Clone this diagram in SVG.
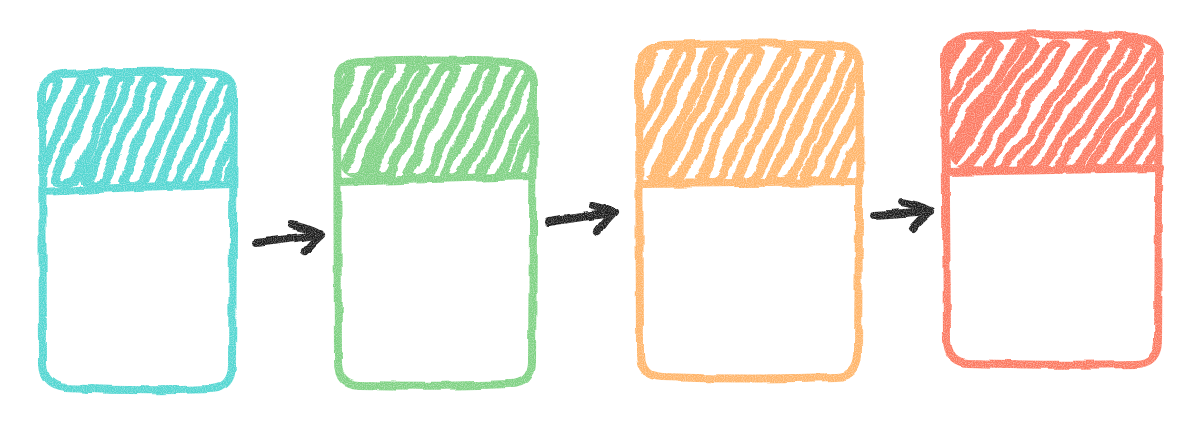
<svg xmlns="http://www.w3.org/2000/svg" width="1200" height="421" viewBox="0 0 1200 421">
<style>
.line{fill:none;stroke-width:8;stroke-linecap:round;stroke-linejoin:round}
.hatch{fill:none;stroke-width:10;stroke-linecap:round;stroke-linejoin:round}
.teal{stroke:#52d6d1}
.green{stroke:#7fd183}
.orange{stroke:#ffb56a}
.red{stroke:#fc7a62}
.arrow{fill:none;stroke:#1f1f1f;stroke-width:8;stroke-linecap:round;stroke-linejoin:round}
</style>
<defs>
<filter id="rough" x="-10%" y="-10%" width="120%" height="120%">
<feTurbulence type="fractalNoise" baseFrequency="0.04" numOctaves="2" seed="3" result="n"/>
<feDisplacementMap in="SourceGraphic" in2="n" scale="5" xChannelSelector="R" yChannelSelector="G" result="d"/>
<feTurbulence type="fractalNoise" baseFrequency="0.9" numOctaves="1" seed="7" result="g"/>
<feColorMatrix in="g" type="matrix" values="0 0 0 0 0  0 0 0 0 0  0 0 0 0 0  0 0 0 -1.2 1.5" result="ga"/>
<feComposite in="d" in2="ga" operator="in"/>
</filter>
<filter id="scribble" x="-10%" y="-10%" width="120%" height="120%">
<feTurbulence type="fractalNoise" baseFrequency="0.025" numOctaves="2" seed="11" result="n"/>
<feDisplacementMap in="SourceGraphic" in2="n" scale="9" xChannelSelector="R" yChannelSelector="G"/>
</filter>
<clipPath id="c1"><rect x="44" y="75" width="188" height="112" rx="18"/></clipPath>
<clipPath id="c2"><rect x="339" y="64" width="193" height="114" rx="18"/></clipPath>
<clipPath id="c3"><rect x="641" y="47" width="218" height="136" rx="20"/></clipPath>
<clipPath id="c4"><rect x="947" y="38" width="212" height="131" rx="20"/></clipPath>
</defs>
<rect width="1200" height="421" fill="#ffffff"/>

<g id="node-1" filter="url(#rough)">
<g clip-path="url(#c1)"><path class="hatch teal" filter="url(#scribble)" d="M 0 182 l42 -100 q7 -9 16 0 l-40 100 q8 9 19 0 l44 -100 q7 -9 15 0 l-42 100 q9 9 21 0 l40 -100 q7 -9 14 0 l-44 100 q8 9 18 0 l42 -100 q7 -9 17 0 l-40 100 q8 9 20 0 l44 -100 q7 -9 15 0 l-42 100 q8 9 19 0 l42 -100 q7 -9 16 0 l-42 100 q8 9 20 0 l40 -100 q7 -9 15 0 l-42 100 q8 9 18 0 l44 -100 q7 -9 16 0 l-42 100 q8 9 19 0 l42 -100 q7 -9 16 0 l-42 100 q8 9 19 0"/></g>
<path class="line teal" d="M 64 74 Q 150 70 212 73 Q 234 74 234 96 L 232 365 Q 232 388 210 389 Q 140 392 66 388 Q 44 386 43 364 L 42 96 Q 42 75 64 74 Z"/>
<path class="line teal" d="M 43 192 Q 140 186 233 184"/>
</g>

<g id="node-2" filter="url(#rough)">
<g clip-path="url(#c2)"><path class="hatch green" filter="url(#scribble)" d="M 286 174 l50 -104 q7 -9 16 0 l-48 104 q8 9 19 0 l52 -104 q7 -9 15 0 l-50 104 q9 9 21 0 l48 -104 q7 -9 14 0 l-52 104 q8 9 18 0 l50 -104 q7 -9 17 0 l-48 104 q8 9 20 0 l52 -104 q7 -9 15 0 l-50 104 q8 9 19 0 l50 -104 q7 -9 16 0 l-50 104 q8 9 20 0 l48 -104 q7 -9 15 0 l-50 104 q8 9 18 0 l52 -104 q7 -9 16 0 l-50 104 q8 9 19 0 l50 -104 q7 -9 16 0 l-50 104 q8 9 18 0"/></g>
<path class="line green" d="M 360 62 Q 440 59 512 62 Q 534 63 534 86 L 532 362 Q 531 384 510 384 Q 440 387 360 385 Q 338 384 338 362 L 337 86 Q 337 63 360 62 Z"/>
<path class="line green" d="M 338 182 Q 440 179 533 176"/>
</g>

<g id="node-3" filter="url(#rough)">
<g clip-path="url(#c3)"><path class="hatch orange" filter="url(#scribble)" d="M 578 178 l60 -124 q7 -9 16 0 l-58 124 q8 9 19 0 l62 -124 q7 -9 15 0 l-60 124 q9 9 21 0 l58 -124 q7 -9 14 0 l-62 124 q8 9 18 0 l60 -124 q7 -9 17 0 l-58 124 q8 9 20 0 l62 -124 q7 -9 15 0 l-60 124 q8 9 19 0 l60 -124 q7 -9 16 0 l-60 124 q8 9 20 0 l58 -124 q7 -9 15 0 l-60 124 q8 9 18 0 l62 -124 q7 -9 16 0 l-60 124 q8 9 19 0 l60 -124 q7 -9 16 0 l-60 124 q8 9 19 0 l60 -124 q7 -9 15 0 l-60 124 q8 9 20 0"/></g>
<path class="line orange" d="M 665 45 Q 750 41 838 46 Q 860 47 860 70 L 858 355 Q 857 376 836 377 Q 750 380 662 377 Q 640 376 640 354 L 639 70 Q 640 47 665 45 Z"/>
<path class="line orange" d="M 640 184 Q 750 183 860 182"/>
</g>

<g id="node-4" filter="url(#rough)">
<g clip-path="url(#c4)"><path class="hatch red" filter="url(#scribble)" d="M 864 166 l82 -120 q7 -9 16 0 l-80 120 q8 9 19 0 l84 -120 q7 -9 15 0 l-82 120 q9 9 21 0 l80 -120 q7 -9 14 0 l-84 120 q8 9 18 0 l82 -120 q7 -9 17 0 l-80 120 q8 9 20 0 l84 -120 q7 -9 15 0 l-82 120 q8 9 19 0 l82 -120 q7 -9 16 0 l-82 120 q8 9 20 0 l80 -120 q7 -9 15 0 l-82 120 q8 9 18 0 l84 -120 q7 -9 16 0 l-82 120 q8 9 19 0 l82 -120 q7 -9 16 0 l-82 120 q8 9 19 0 l82 -120 q7 -9 15 0 l-82 120 q8 9 20 0 l82 -120 q7 -9 16 0 l-82 120 q8 9 19 0"/></g>
<path class="line red" d="M 970 36 Q 1060 32 1138 37 Q 1160 38 1160 60 L 1158 342 Q 1157 363 1136 364 Q 1060 366 968 363 Q 948 362 947 340 L 945 60 Q 945 38 970 36 Z"/>
<path class="line red" d="M 946 172 Q 1050 170 1160 168"/>
</g>

<g id="connectors" filter="url(#rough)">
<path class="arrow" d="M 256 243 Q 290 239 320 234"/>
<path class="arrow" d="M 292 225 Q 310 229 321 235 Q 312 243 305 251"/>
<path class="arrow" d="M 549 222 Q 580 217 612 213"/>
<path class="arrow" d="M 592 206 Q 605 209 613 213 Q 604 222 598 231"/>
<path class="arrow" d="M 874 215 Q 905 213 931 211"/>
<path class="arrow" d="M 902 202 Q 920 205 931 211 Q 920 220 913 229"/>
</g>
</svg>
